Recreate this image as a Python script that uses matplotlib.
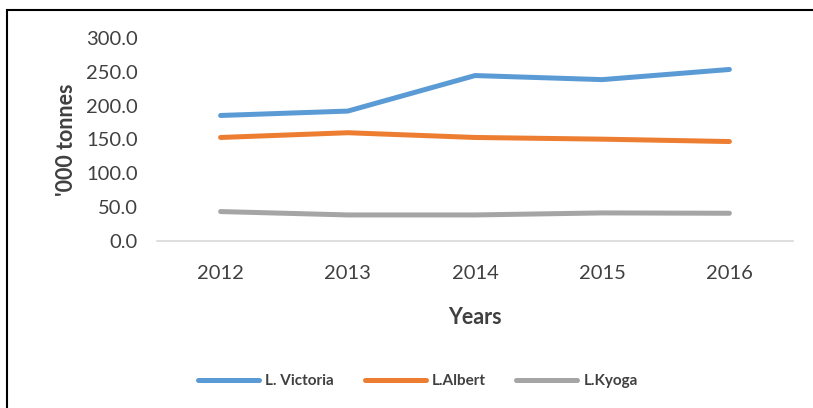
import matplotlib.pyplot as plt
from matplotlib.patches import Rectangle

years = ["2012", "2013", "2014", "2015", "2016"]
victoria = [185.5, 192.0, 244.5, 238.5, 253.5]
albert = [153.0, 160.0, 153.0, 150.5, 147.0]
kyoga = [43.5, 38.5, 38.5, 41.5, 41.0]

series = [
    ("L. Victoria", victoria, "#5B9BD5"),
    ("L.Albert", albert, "#ED7D31"),
    ("L.Kyoga", kyoga, "#A5A5A5"),
]

plt.rcParams["font.family"] = ["Lato", "DejaVu Sans"]

fig = plt.figure(figsize=(8.13, 4.08), dpi=100)
ax = fig.add_axes([157 / 813, 1 - 241 / 408, 636 / 813, 203 / 408])

x = list(range(len(years)))
for name, vals, color in series:
    ax.plot(x, vals, color=color, lw=3.6, solid_capstyle="round", label=name)

ax.set_xlim(-0.5, len(years) - 0.5)
ax.set_ylim(0, 300)
ax.set_yticks(range(0, 301, 50))
ax.set_yticklabels([f"{v:.1f}" for v in range(0, 301, 50)])
ax.set_xticks(x)
ax.set_xticklabels(years)
ax.tick_params(length=0, labelsize=14.5, colors="#404040")
ax.tick_params(axis="y", pad=14)
ax.tick_params(axis="x", pad=17)

for side in ["top", "right", "left"]:
    ax.spines[side].set_visible(False)
ax.spines["bottom"].set_color("#D9D9D9")
ax.spines["bottom"].set_linewidth(1.2)

ax.set_ylabel("'000 tonnes", fontsize=15.5, fontweight="bold", color="#404040", labelpad=6)
ax.set_xlabel("Years", fontsize=15.5, fontweight="bold", color="#404040", labelpad=18)

ax.legend(loc="center", bbox_to_anchor=(418 / 813, 1 - 381 / 408), bbox_transform=fig.transFigure,
          ncol=3, frameon=False, handlelength=4.0, columnspacing=2.0,
          handletextpad=0.4, prop={"weight": "bold", "size": 11})
for t in ax.get_legend().get_texts():
    t.set_color("#404040")

fig.patches.append(Rectangle((7 / 813, -0.1), 1.2, 1.1 - 10 / 408, transform=fig.transFigure,
                             fill=False, edgecolor="black", lw=1.5))

fig.savefig("out.png", dpi=100)
